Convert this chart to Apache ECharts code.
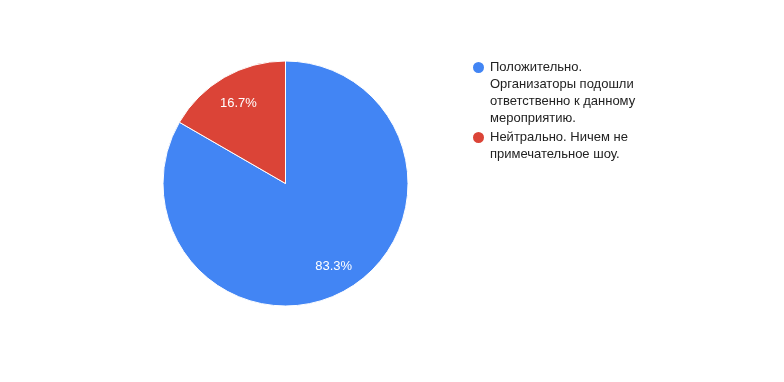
<!DOCTYPE html>
<html>
<head>
<meta charset="utf-8">
<script src="https://cdn.jsdelivr.net/npm/echarts@6/dist/echarts.min.js"></script>
<style>
html,body{margin:0;padding:0;background:#fff;}
#chart{width:784px;height:382px;}
</style>
</head>
<body>
<div id="chart"></div>
<script>
// Data
const categories = [
  'Положительно.\nОрганизаторы подошли\nответственно к данному\nмероприятию.',
  'Нейтрально. Ничем не\nпримечательное шоу.'
];
const values = [5, 1];
const colors = ['#4285F4', '#DB4437'];

const chart = echarts.init(document.getElementById('chart'), null, {renderer: 'canvas'});
const LH = 17;
const data = categories.map((c, i) => ({name: c, value: values[i], itemStyle: {color: colors[i]}}));

function legendFor(i, iconCenterY) {
  const lines = categories[i].split('\n').length;
  // the text block is centred on the icon; pad it with blank lines on top
  const total = (2 * lines - 1) * LH;
  return {
    show: true,
    left: 471,
    top: Math.round(iconCenterY - total / 2),
    padding: 0,
    orient: 'vertical',
    icon: 'circle',
    itemWidth: 13,
    itemHeight: 13,
    selectedMode: false,
    data: [categories[i]],
    formatter: function (name) {
      return '\n'.repeat(lines - 1) + name;
    },
    textStyle: {
      color: '#222222',
      fontSize: 13,
      fontFamily: 'Arial, "Liberation Sans", sans-serif',
      lineHeight: LH
    }
  };
}

chart.setOption({
  backgroundColor: '#ffffff',
  animation: false,
  legend: [legendFor(0, 67.5), legendFor(1, 137.5)],
  series: [
    {
      type: 'pie',
      center: [285.5, 183.5],
      radius: [0, 122.5],
      startAngle: 90,
      clockwise: true,
      percentPrecision: 1,
      data: data,
      itemStyle: {borderColor: '#ffffff', borderWidth: 1},
      label: {show: false},
      labelLine: {show: false},
      emphasis: {disabled: true}
    },
    {
      type: 'pie',
      center: [285.5, 183.5],
      radius: [64, 122.5],
      startAngle: 90,
      clockwise: true,
      percentPrecision: 1,
      silent: true,
      legendHoverLink: false,
      data: categories.map((c, i) => ({
        name: c,
        value: values[i],
        label: i === 1 ? {offset: [1, 3]} : {}
      })),
      itemStyle: {color: 'rgba(0,0,0,0)', borderWidth: 0},
      label: {
        show: true,
        position: 'inside',
        formatter: '{d}%',
        color: '#ffffff',
        fontSize: 13,
        fontFamily: 'Arial, "Liberation Sans", sans-serif'
      },
      labelLine: {show: false},
      emphasis: {disabled: true}
    }
  ]
});
</script>
</body>
</html>
